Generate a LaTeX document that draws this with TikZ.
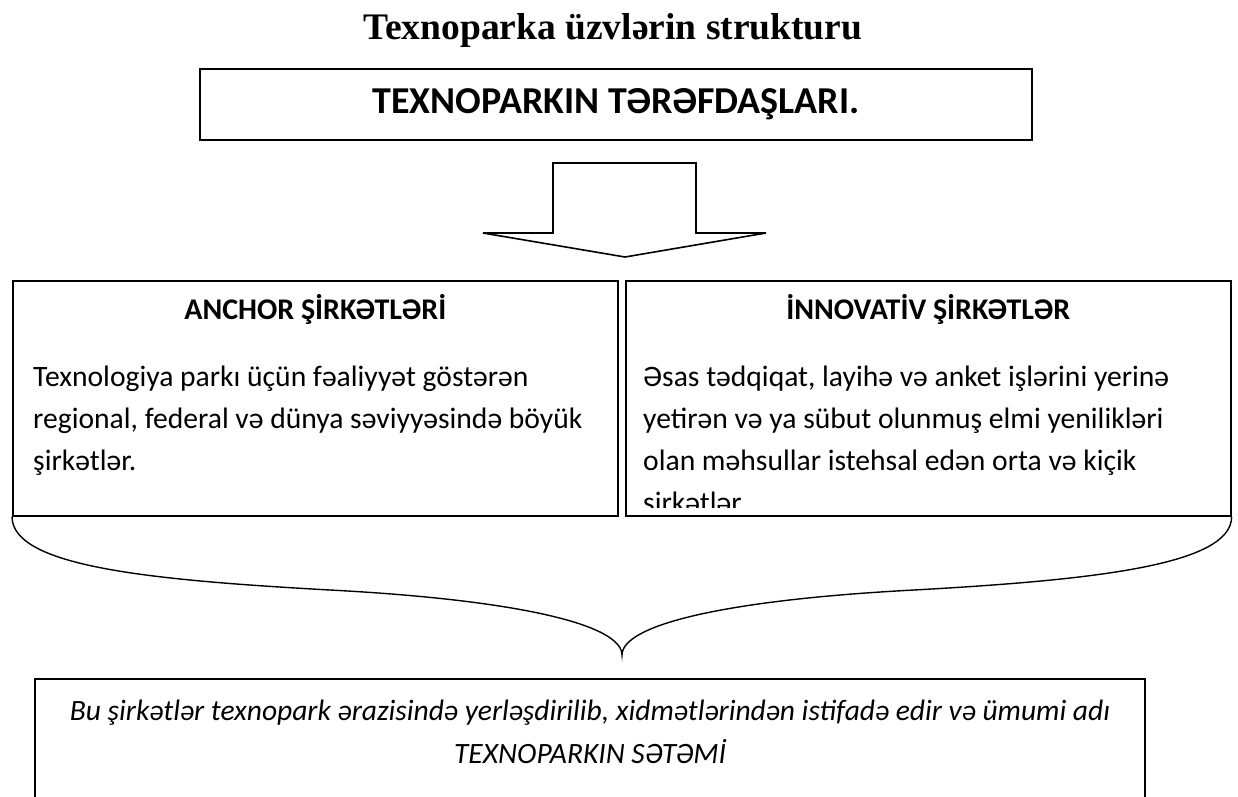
\documentclass[tikz,border=0pt]{standalone}
\usepackage{fontspec}
\setmainfont{Liberation Serif}
\newfontfamily\calibri{Carlito}
\usetikzlibrary{positioning}

\begin{document}
\begin{tikzpicture}[x=1pt, y=-1pt]
            \tikzstyle{box}=[draw, line width=1.6pt, inner sep=0pt]
            \tikzstyle{head}=[font=\calibri\bfseries\fontsize{30}{34}\selectfont, inner sep=0pt]
            \tikzstyle{body}=[font=\calibri\fontsize{29.6}{42}\selectfont, align=left, inner sep=0pt]
            \useasboundingbox (0,0) rectangle (1238,796);
            \node[font=\bfseries\fontsize{37.5}{40}\selectfont, anchor=base] (title) at (613,39) {Texnoparka üzvlərin strukturu};
            \node[box, minimum width=832, minimum height=71, font=\calibri\bfseries\fontsize{38}{42}\selectfont] (partners) at (616,104.5) {TEXNOPARKIN TƏRƏFDAŞLARI.};
            % block arrow
            \draw[line width=1.6pt, line join=miter] (553,163) -- (696,163) -- (696,233) -- (766,233) -- (625,257) -- (483,233) -- (553,233) -- cycle;
            % two kinds of members
            \node[box, minimum width=605, minimum height=235, anchor=north west] (anchor) at (12,280) {};
            \node[box, minimum width=605, minimum height=235, anchor=north west] (innov) at (625,280) {};
            \node[head, anchor=base] (anchorH) at (anchor.north |- 0,319) {ANCHOR ŞİRKƏTLƏRİ};
            \node[head, anchor=base] (innovH) at (innov.north |- 0,319) {İNNOVATİV ŞİRKƏTLƏR};
            \node[body, anchor=north west] (anchorB) at (33,366) {Texnologiya parkı üçün fəaliyyət göstərən\\regional, federal və dünya səviyyəsində böyük\\şirkətlər.};
            \begin{scope}
                \clip (625,280) rectangle (1230,507);
                \node[body, anchor=north west] (innovB) at (643,366) {Əsas tədqiqat, layihə və anket işlərini yerinə\\yetirən və ya sübut olunmuş elmi yenilikləri\\olan məhsullar istehsal edən orta və kiçik\\şirkətlər};
            \end{scope}
            % brace
            \coordinate (cusp) at (622,655);
            \draw[line width=1.4pt] (anchor.south west) .. controls +(0,50) and (150,580) .. (330,590) .. controls (520,600) and (622,625) .. (cusp) .. controls (622,625) and (724,600) .. (914,590) .. controls (1094,580) and (1232,565) .. (innov.south east);
            \node[box, minimum width=1110, minimum height=160, anchor=north] (sum) at (590,678) {};
            \node[font=\calibri\itshape\fontsize{29.5}{43}\selectfont, align=center, anchor=north, inner sep=0pt] (sumT) at (sum.north |- 0,700) {Bu şirkətlər texnopark ərazisində yerləşdirilib, xidmətlərindən istifadə edir və ümumi adı\\TEXNOPARKIN SƏTƏMİ};
\end{tikzpicture}
\end{document}
